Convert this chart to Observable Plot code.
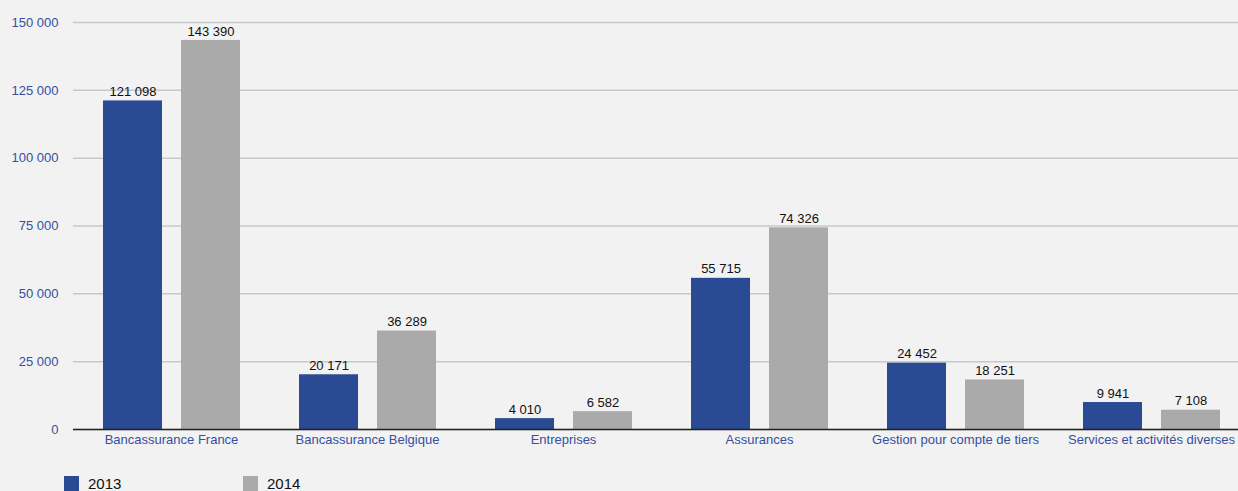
<!DOCTYPE html>
<html>
<head>
<meta charset="utf-8">
<script src="https://cdn.jsdelivr.net/npm/d3@7"></script>
<script src="https://cdn.jsdelivr.net/npm/@observablehq/plot@0.6"></script>
<style>
  html, body { margin: 0; padding: 0; background: #f2f2f2; overflow: hidden; }
  body { width: 1238px; height: 491px; font-family: "Liberation Sans", Arial, Helvetica, sans-serif; }
  #legend { position: absolute; left: 64px; top: 475px; display: flex; font-size: 15px; color: #111; }
  .item { display: flex; align-items: center; }
  .sw { width: 15px; height: 15px; margin-right: 9px; }
</style>
</head>
<body>
<div id="chart"></div>
<div id="legend"></div>
<script>
const categories = ["Bancassurance France", "Bancassurance Belgique", "Entreprises", "Assurances", "Gestion pour compte de tiers", "Services et activités diverses"];
const years = ["2013", "2014"];
const values2013 = [121098, 20171, 4010, 55715, 24452, 9941];
const values2014 = [143390, 36289, 6582, 74326, 18251, 7108];
const yTicks = [0, 25000, 50000, 75000, 100000, 125000, 150000];
const colors = ["#2a4a94", "#aaaaaa"];

const locale = d3.formatLocale({decimal: ",", thousands: " ", grouping: [3], currency: ["", ""]});
const fmt = locale.format(",d");

const rows = [];
categories.forEach((c, i) => {
  rows.push({cat: c, year: years[0], value: values2013[i]});
  rows.push({cat: c, year: years[1], value: values2014[i]});
});

const chart = Plot.plot({
  width: 1238,
  height: 460,
  marginLeft: 73,
  marginRight: 0,
  marginTop: 22,
  marginBottom: 31,
  style: {background: "#f2f2f2", fontFamily: "'Liberation Sans', Arial, Helvetica, sans-serif", fontSize: "13px", overflow: "visible"},
  fx: {domain: categories, range: [73, 1249], padding: 0, label: null},
  x: {domain: years, paddingInner: 0.2436, paddingOuter: 0.378, axis: null},
  y: {domain: [0, 150000], axis: null},
  color: {domain: years, range: colors},
  marks: [
    Plot.gridY(yTicks, {stroke: "#c8c8c8", strokeOpacity: 1, strokeWidth: 1.5}),
    Plot.barY(rows, {fx: "cat", x: "year", y: "value", fill: "year"}),
    Plot.ruleY([0], {stroke: "#222", strokeWidth: 1.5}),
    Plot.text(rows, {fx: "cat", x: "year", y: "value", text: d => fmt(d.value), dy: -9, fill: "#111", fontSize: 13}),
    Plot.axisY(yTicks, {tickSize: 0, tickPadding: 15, tickFormat: fmt, fill: "#3450a0", fontSize: 13, label: null}),
    Plot.axisFx({anchor: "bottom", tickSize: 0, tickPadding: 5, fill: "#3450a0", fontSize: 13, label: null})
  ]
});
document.getElementById("chart").appendChild(chart);

const legend = document.getElementById("legend");
years.forEach((y, i) => {
  const item = document.createElement("div");
  item.className = "item";
  item.style.width = i === 0 ? "179px" : "auto";
  const sw = document.createElement("div");
  sw.className = "sw";
  sw.style.background = colors[i];
  const t = document.createElement("span");
  t.textContent = y;
  item.appendChild(sw);
  item.appendChild(t);
  legend.appendChild(item);
});
</script>
</body>
</html>
